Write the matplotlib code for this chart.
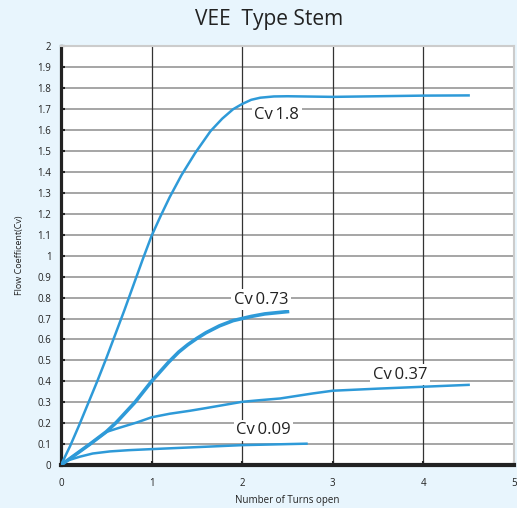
import numpy as np
import matplotlib.pyplot as plt

# Curves (turns open -> Cv)
turns_18 = [0, 0.1, 0.2, 0.3, 0.4, 0.5, 0.6, 0.7, 0.8, 0.9, 1.0, 1.1, 1.2, 1.33, 1.48, 1.65, 1.78,
            1.9, 2.0, 2.1, 2.2, 2.35, 2.5, 3.0, 3.5, 4.0, 4.5]
cv_18 = [0, 0.09, 0.19, 0.295, 0.40, 0.51, 0.625, 0.74, 0.86, 0.98, 1.095, 1.19, 1.28, 1.385, 1.49,
         1.595, 1.655, 1.70, 1.725, 1.745, 1.755, 1.761, 1.762, 1.759, 1.762, 1.765, 1.766]

turns_073 = [0, 0.32, 0.5, 0.614, 0.817, 1.0, 1.185, 1.3, 1.4, 1.5, 1.6, 1.75, 1.9, 2.0, 2.1, 2.25, 2.5]
cv_073 = [0, 0.1, 0.159, 0.205, 0.3, 0.4, 0.49, 0.54, 0.575, 0.605, 0.632, 0.665, 0.69, 0.70, 0.71,
          0.722, 0.733]

turns_037 = [0, 0.32, 0.5, 0.6, 0.69, 0.835, 1.0, 1.2, 1.42, 1.6, 2.0, 2.2, 2.42, 2.6, 2.78, 3.0,
             3.25, 3.5, 4.0, 4.5]
cv_037 = [0, 0.1, 0.158, 0.172, 0.184, 0.203, 0.228, 0.245, 0.259, 0.272, 0.302, 0.31, 0.318,
          0.33, 0.342, 0.355, 0.36, 0.365, 0.374, 0.383]

turns_009 = [0, 0.06, 0.21, 0.35, 0.54, 0.75, 1.0, 1.42, 2.0, 2.71]
cv_009 = [0, 0.02, 0.04, 0.055, 0.065, 0.071, 0.076, 0.084, 0.095, 0.102]

labels = ["Cv\u20091.8", "Cv\u20090.73", "Cv\u20090.37", "Cv\u20090.09"]
label_x = [2.38, 2.21, 3.74, 2.235]
label_y = [1.67, 0.79, 0.432, 0.167]

x_ticks = [0, 1, 2, 3, 4, 5]
y_ticks = np.round(np.arange(0, 2.01, 0.1), 1)

bg = "#e8f5fd"
blue = "#2e9ad8"

plt.rcParams['font.family'] = ['Open Sans', 'DejaVu Sans']

fig = plt.figure(figsize=(5.17, 5.08), dpi=100, facecolor=bg)
ax = fig.add_axes([0.118, 0.0846, 0.876, 0.824])
ax.set_facecolor("white")

# grid
for yv in y_ticks[1:-1]:
    ax.axhline(yv, color="#9e9e9e", linewidth=1.3, zorder=1)
for xv in x_ticks[1:-1]:
    ax.axvline(xv, color="#333333", linewidth=0.9, zorder=1)

ax.plot(turns_18, cv_18, color=blue, linewidth=1.8, zorder=3)
ax.plot(turns_073, cv_073, color=blue, linewidth=2.6, zorder=3)
ax.plot(turns_037, cv_037, color=blue, linewidth=1.8, zorder=3)
ax.plot(turns_009, cv_009, color=blue, linewidth=1.8, zorder=3)

for txt, lx, ly in zip(labels, label_x, label_y):
    ax.text(lx, ly, txt, fontsize=12, color="#222222", ha="center", va="center", zorder=4,
            bbox=dict(boxstyle="square,pad=0.15", facecolor="white", edgecolor="none"))

ax.set_xlim(0, 5)
ax.set_ylim(0, 2)
ax.set_xticks(x_ticks)
ax.set_yticks(y_ticks)
ax.set_yticklabels([f"{v:g}" for v in y_ticks])
ax.tick_params(axis="both", labelsize=7, colors="#222222", direction="in", length=3, width=1.5)
ax.tick_params(axis="x", pad=9)
ax.tick_params(axis="y", pad=7)

ax.spines["left"].set_color("#222222")
ax.spines["left"].set_linewidth(2.3)
ax.spines["bottom"].set_color("#222222")
ax.spines["bottom"].set_linewidth(3)
ax.spines["top"].set_color("#cccccc")
ax.spines["top"].set_linewidth(1.5)
ax.spines["right"].set_color("#cccccc")
ax.spines["right"].set_linewidth(1.5)

ax.set_xlabel("Number of Turns open", fontsize=7, color="#222222", labelpad=5)
ax.set_ylabel("Flow Coefficent(Cv)", fontsize=6.5, color="#222222", labelpad=10)
fig.text(0.52, 0.962, "VEE  Type Stem", fontsize=15, color="#222222", ha="center", va="center")

fig.savefig("out.png", dpi=100, facecolor=bg)
